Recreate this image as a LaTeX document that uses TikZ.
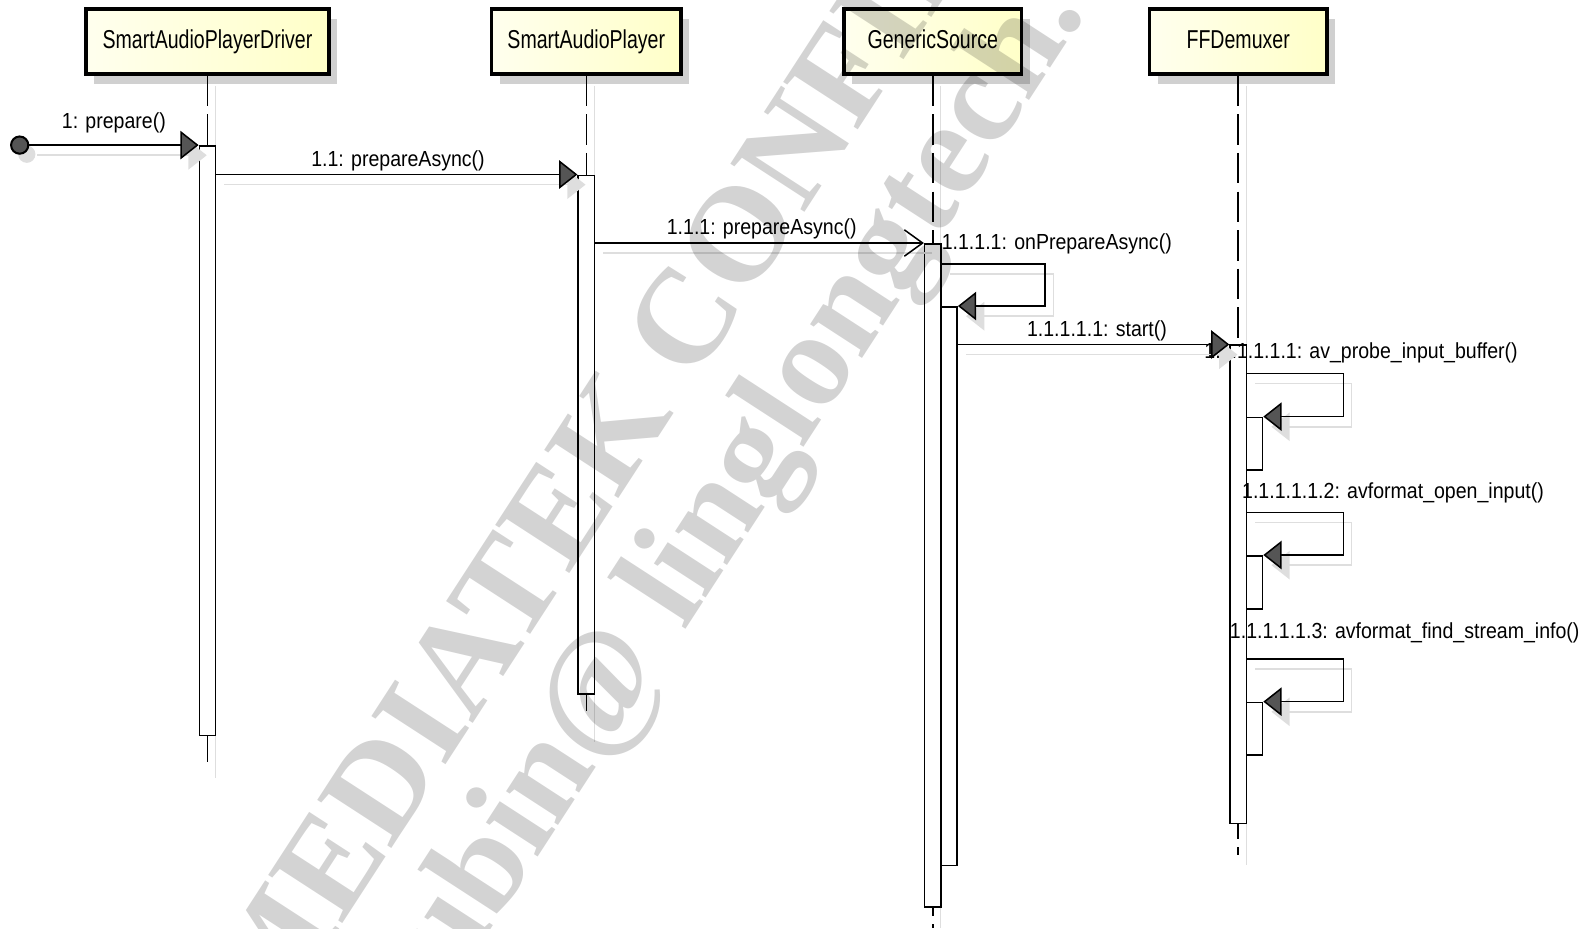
\documentclass[tikz,border=0pt]{standalone}
\usepackage{fontspec}
\setmainfont{Liberation Sans}
\newfontfamily\headfont{Liberation Sans}[FakeStretch=0.756]
\newfontfamily\lblfont{Liberation Sans}[FakeStretch=0.896]
\newfontfamily\wmfont{Liberation Serif}
\usetikzlibrary{arrows.meta,shadows,calc}
\definecolor{headL}{RGB}{255,255,238}
\definecolor{headR}{RGB}{255,255,200}
\definecolor{boxshadow}{RGB}{208,208,208}
\definecolor{lineshadow}{RGB}{222,222,222}
\definecolor{tipgray}{RGB}{85,85,85}
\definecolor{wm}{RGB}{211,211,211}
\tikzset{
  head/.style={rectangle, draw=black, line width=3.5pt, left color=headL, right color=headR,
    minimum height=64pt, inner sep=0pt, font=\headfont\fontsize{25.5}{28}\selectfont,
    text height=18.5pt, text depth=5pt,
    drop shadow={shadow xshift=8pt, shadow yshift=-10pt, fill=boxshadow, opacity=1}},
  lifeline/.style={line width=1.5pt, dash pattern=on 30pt off 8pt},
  lifeshadow/.style={line width=1pt, draw=lineshadow},
  bar/.style={rectangle, draw=black, fill=white, line width=1.5pt, minimum width=16pt, inner sep=0pt, anchor=north},
  msgline/.style={line width=1.5pt, draw=black},
  shline/.style={line width=1.5pt, draw=lineshadow, transform canvas={xshift=8pt, yshift=-10pt}},
  ftip/.style={-{Triangle[length=18pt, width=28pt, fill=tipgray]}},
  ftips/.style={-{Triangle[length=18pt, width=28pt, fill=lineshadow]}},
  otip/.style={-{Straight Barb[length=18pt, width=26pt]}},
  otips/.style={},
  lbl/.style={font=\lblfont\fontsize{21.5}{24}\selectfont, inner sep=0pt, anchor=base west},
  wmtext/.style={font=\wmfont\bfseries\fontsize{133}{140}\selectfont, text=wm, inner sep=0pt, anchor=base west, rotate=57},
}
\newcommand\umlmsg[2]{%
  \draw[shline,#1s] #2;
  \draw[msgline,#1] #2;}
\begin{document}
\begin{tikzpicture}[x=1pt,y=-1pt]
\useasboundingbox (0,0) rectangle (1568,915);
% heads
\node[head, minimum width=239pt] (h1) at (204.5,41) {SmartAudioPlayerDriver};
\node[head, minimum width=187pt] (h2) at (577.8,41) {SmartAudioPlayer};
\node[head, minimum width=175pt] (h3) at (919.3,41) {GenericSource};
\node[head, minimum width=175pt] (h4) at (1220.3,41) {FFDemuxer};
% lifeline ends
\coordinate (e1) at (204.5,757);
\coordinate (e2) at (577.8,701);
\coordinate (e3) at (919.3,915);
\coordinate (e4) at (1220.3,843);
\coordinate (s1) at (212.5,767);
\coordinate (s2) at (585.8,731);
\coordinate (s3) at (927.3,915);
\coordinate (s4) at (1228.3,852);
% lifeline shadows
\draw[lifeshadow] ([xshift=8pt,yshift=-10pt]h1.south) -- (s1);
\draw[lifeshadow] ([xshift=8pt,yshift=-10pt]h2.south) -- (s2);
\draw[lifeshadow] ([xshift=8pt,yshift=-10pt]h3.south) -- (s3);
\draw[lifeshadow] ([xshift=8pt,yshift=-10pt]h4.south) -- (s4);
% lifelines
\draw[lifeline] (h1.south) -- (e1);
\draw[lifeline] (h2.south) -- (e2);
\draw[lifeline] (h3.south) -- (e3);
\draw[lifeline] (h4.south) -- (e4);
% activation bars
\node[bar, minimum height=581pt] (a1) at (204.5,143) {};
\node[bar, minimum height=511pt] (a2) at (577.8,172) {};
\node[bar, minimum height=653.5pt] (a3) at (919.3,239.5) {};
\node[bar, minimum height=550.5pt] (a3b) at (935.3,301.6) {};
\node[bar, minimum height=471.3pt] (a4) at (1220.3,339.5) {};
\node[bar, minimum height=51.9pt] (a4a) at (1236.3,410.6) {};
\node[bar, minimum height=52.5pt] (a4b) at (1236.3,547) {};
\node[bar, minimum height=51.9pt] (a4c) at (1236.3,691.5) {};
% labels
\node[lbl] (t1) at (60.8,126.5) {1: prepare()};
\node[lbl] (t2) at (306.6,164) {1.1: prepareAsync()};
\node[lbl] (t3) at (657,231.6) {1.1.1: prepareAsync()};
\node[lbl] (t4) at (928,245.7) {1.1.1.1: onPrepareAsync()};
\node[lbl] (t5) at (1012,331.8) {1.1.1.1.1: start()};
\node[lbl, anchor=base east] (t6) at (1496,353) {1.1.1.1.1.1: av\_probe\_input\_buffer()};
\node[lbl] (t7) at (1224,491) {1.1.1.1.1.2: avformat\_open\_input()};
\node[lbl] (t8) at (1212,629) {1.1.1.1.1.3: avformat\_find\_stream\_info()};
% found message start
\node[circle, draw=black, line width=2pt, fill=tipgray, minimum size=17pt, inner sep=0pt,
  drop shadow={shadow xshift=7pt, shadow yshift=-9pt, fill=lineshadow, opacity=1}] (found) at (19.4,143) {};
% messages
\umlmsg{ftip}{(found) -- (a1.north west)}
\umlmsg{ftip}{(a1.east |- 0,172) -- (a2.north west)}
\umlmsg{otip}{(a2.east |- 0,239.5) -- (a3.north west)}
\umlmsg{ftip}{(a3.east |- 0,260) -- ++(102,0) |- (a3b.north east)}
\umlmsg{ftip}{(a3b.east |- 0,339.5) -- (a4.north west)}
\umlmsg{ftip}{(a4.east |- 0,368) -- ++(95,0) |- (a4a.north east)}
\umlmsg{ftip}{(a4.east |- 0,505) -- ++(95,0) |- (a4b.north east)}
\umlmsg{ftip}{(a4.east |- 0,649.5) -- ++(95,0) |- (a4c.north east)}
% watermark
\begin{scope}[blend mode=multiply]
\clip (0,0) rectangle (1568,915);
\node[wmtext] (wm1) at (268,1018) {MEDIATEK CONFIDENTIAL};
\node[wmtext] (wm2) at (427.8,1002.6) {lubin@ linglongtech.com};
\end{scope}
\end{tikzpicture}
\end{document}
